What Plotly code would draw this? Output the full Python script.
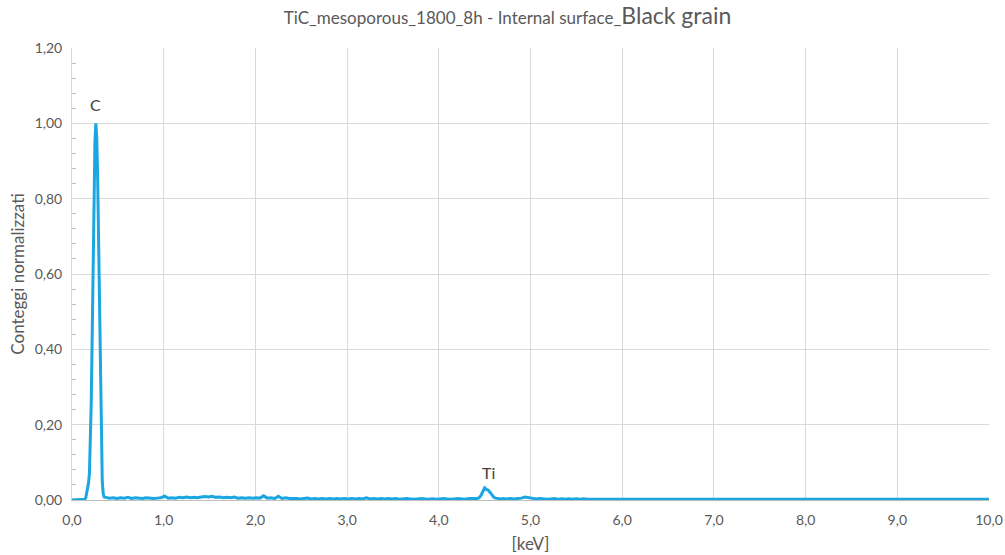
import numpy as np
import plotly.graph_objects as go

# EDS spectrum: normalised counts vs energy [keV], stored in segments
# (start energy, channel step, counts)
c_peak_start, c_peak_step = 0.00, 0.01
c_peak_counts = [
    0.000, 0.000, 0.000, 0.000, 0.000, 0.000, 0.000, 0.000, 0.000, 0.000,
    0.000, 0.000, 0.001, 0.001, 0.002, 0.006, 0.018, 0.032, 0.045, 0.070,
    0.140, 0.260, 0.430, 0.630, 0.810, 0.950, 1.000, 0.960, 0.850, 0.670,
    0.460, 0.270, 0.130, 0.050, 0.018, 0.008,
]

low_start, low_step = 0.37, 0.04
low_counts = [
    0.007, 0.005, 0.006, 0.004, 0.006, 0.005, 0.007, 0.004, 0.006, 0.005,
    0.004, 0.006, 0.005, 0.004, 0.005, 0.006,
    0.010, 0.005, 0.006, 0.005, 0.007, 0.006, 0.008, 0.006, 0.007, 0.006,
    0.008, 0.009, 0.008, 0.010, 0.007, 0.008, 0.006, 0.007, 0.006, 0.008,
    0.005, 0.006, 0.005, 0.006, 0.005, 0.006,
    0.005, 0.011, 0.005, 0.006, 0.004, 0.010, 0.004, 0.006, 0.004, 0.005,
    0.004, 0.003, 0.004, 0.005, 0.003, 0.004, 0.003, 0.004, 0.003, 0.004,
    0.003, 0.004, 0.003, 0.004, 0.003,
    0.004, 0.003, 0.004, 0.003, 0.006, 0.003, 0.004, 0.003, 0.004, 0.003,
    0.004, 0.003, 0.004, 0.002, 0.003, 0.004, 0.003, 0.002, 0.003, 0.004,
    0.003, 0.002, 0.003, 0.002, 0.003, 0.004, 0.003, 0.002, 0.003, 0.004,
    0.003, 0.002, 0.004, 0.003,
]

ti_start, ti_step = 4.40, 0.02
ti_counts = [
    0.004, 0.004, 0.006, 0.012, 0.022, 0.032, 0.028, 0.026, 0.020, 0.012,
    0.007, 0.005, 0.004, 0.005, 0.003, 0.004,
]

high_start, high_step = 4.74, 0.04
high_counts = [
    0.003, 0.004, 0.003, 0.004, 0.005, 0.008, 0.006, 0.004, 0.003, 0.004,
    0.003, 0.002, 0.003, 0.004, 0.002, 0.003, 0.002, 0.003, 0.002, 0.003,
    0.002, 0.003, 0.002, 0.002, 0.003, 0.002, 0.003, 0.002, 0.002, 0.003,
    0.002, 0.003, 0.002, 0.003, 0.002, 0.002, 0.003, 0.002, 0.003, 0.002,
    0.002, 0.003, 0.002, 0.002, 0.003, 0.002, 0.002, 0.003, 0.002, 0.002,
    0.003, 0.002, 0.002, 0.003, 0.002, 0.002, 0.003, 0.002, 0.002, 0.003,
    0.002, 0.002, 0.003, 0.002, 0.002, 0.003, 0.002, 0.002, 0.003, 0.002,
    0.002, 0.003, 0.002, 0.002, 0.003, 0.002, 0.002, 0.002, 0.003, 0.002,
    0.002, 0.002, 0.003, 0.002, 0.002, 0.002, 0.003, 0.002, 0.002, 0.003,
    0.002, 0.002, 0.002, 0.003, 0.002, 0.002, 0.003, 0.002, 0.002, 0.002,
    0.003, 0.002, 0.002, 0.002, 0.003, 0.002, 0.002, 0.003, 0.002, 0.002,
    0.002, 0.003, 0.002, 0.002, 0.002, 0.003, 0.002, 0.002, 0.002, 0.003,
    0.002, 0.002, 0.003, 0.002, 0.002, 0.002, 0.003, 0.002, 0.002, 0.002,
    0.003, 0.002,
]

end_energy, end_count = 10.00, 0.002

peak_labels = ["C", "Ti"]
peak_label_x = [0.26, 4.54]
peak_label_y = [1.05, 0.072]

segments = [
    (c_peak_start, c_peak_step, c_peak_counts),
    (low_start, low_step, low_counts),
    (ti_start, ti_step, ti_counts),
    (high_start, high_step, high_counts),
]
energy, counts = [], []
for start, step, vals in segments:
    energy.extend(start + step * np.arange(len(vals)))
    counts.extend(vals)
energy.append(end_energy)
counts.append(end_count)

FONT = "Lato, Carlito, Calibri, sans-serif"
GREY = "#595959"

fig = go.Figure()
fig.add_trace(go.Scatter(
    x=energy, y=counts, mode="lines",
    line=dict(color="#1AA6E0", width=3),
    showlegend=False, hoverinfo="skip",
))

for txt, lx, ly in zip(peak_labels, peak_label_x, peak_label_y):
    fig.add_annotation(x=lx, y=ly, text=txt, showarrow=False,
                       font=dict(family=FONT, size=16, color="#404040"))

fig.update_layout(
    width=1005, height=555,
    margin=dict(l=72, r=16, t=48, b=55, autoexpand=False),
    paper_bgcolor="white", plot_bgcolor="white",
    separators=",.",
    font=dict(family=FONT, color=GREY),
    title=dict(
        text="TiC_mesoporous_1800_8h - Internal surface_"
             "<span style='font-size:23px'>Black grain</span>",
        x=0.505, xanchor="center", y=0.968, yanchor="middle",
        font=dict(family=FONT, size=17, color=GREY),
    ),
    xaxis=dict(
        range=[0, 10], dtick=1, tickformat=".1f", automargin=False,
        showgrid=True, gridcolor="#d9d9d9", gridwidth=1,
        showline=True, linecolor="#bfbfbf", linewidth=1,
        zeroline=False, ticks="", ticklabelstandoff=7,
        tickfont=dict(family=FONT, size=14, color=GREY),
        title=dict(text="[keV]", font=dict(family=FONT, size=17, color=GREY),
                   standoff=11),
    ),
    yaxis=dict(
        range=[0, 1.2], dtick=0.2, tickformat=".2f", automargin=False,
        showgrid=True, gridcolor="#d9d9d9", gridwidth=1,
        showline=True, linecolor="#d9d9d9", linewidth=1,
        zeroline=False, ticks="", ticklabelstandoff=6,
        minor=dict(dtick=0.04, ticks="inside", ticklen=4,
                   tickcolor="#bfbfbf", showgrid=False),
        tickfont=dict(family=FONT, size=14, color=GREY),
        title=dict(text="Conteggi normalizzati",
                   font=dict(family=FONT, size=17, color=GREY), standoff=5),
    ),
)

fig.write_html("out.html")
